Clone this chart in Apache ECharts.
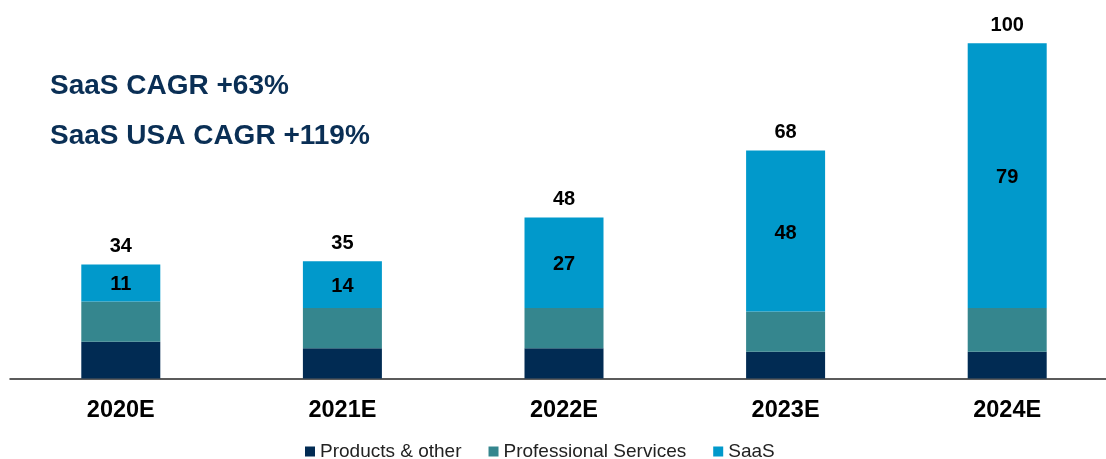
<!DOCTYPE html>
<html>
<head>
<meta charset="utf-8">
<title>Revenue mix 2020E–2024E</title>
<script src="https://cdn.jsdelivr.net/npm/echarts@6/dist/echarts.min.js"></script>
<style>
  html, body { margin: 0; padding: 0; background: #ffffff; }
  #chart { width: 1106px; height: 459px; }
</style>
</head>
<body>
<div id="chart"></div>
<script>
// Revenue by segment, per year
const categories = ['2020E', '2021E', '2022E', '2023E', '2024E'];
const products = [11, 9, 9, 8, 8];
const services = [12, 12, 12, 12, 13];
const saas = [11, 14, 27, 48, 79];
const seriesNames = ['Products & other', 'Professional Services', 'SaaS'];
const headlines = ['SaaS CAGR +63%', 'SaaS USA CAGR +119%'];

const totals = categories.map((_, i) => products[i] + services[i] + saas[i]);

const FONT = '"Liberation Sans", Arial, Helvetica, sans-serif';
const COLORS = { products: '#012B53', services: '#35868E', saas: '#0199CB' };

const chart = echarts.init(document.getElementById('chart'), null, { renderer: 'canvas' });

chart.setOption({
  animation: false,
  textStyle: { fontFamily: FONT },
  // plot area runs a little past the right edge so the five slots are evenly wide
  grid: {
    left: 10, width: 1108, top: 43.3, height: 335.2,
    outerBoundsMode: 'none', containLabel: false
  },
  legend: {
    data: seriesNames,
    left: 300,
    top: 437,
    itemWidth: 10,
    itemHeight: 10,
    itemGap: 27,
    icon: 'rect',
    textStyle: { fontFamily: FONT, fontSize: 19, color: '#222222' }
  },
  xAxis: {
    type: 'category',
    data: categories,
    axisLine: { lineStyle: { color: '#262626', width: 1.5 } },
    axisTick: { show: false },
    axisLabel: { margin: 20, fontFamily: FONT, fontSize: 23.5, fontWeight: 'bold', color: '#000000' }
  },
  yAxis: {
    type: 'value',
    min: 0,
    max: 100,
    show: false,
    splitLine: { show: false }
  },
  graphic: headlines.map((t, i) => ({
    type: 'text',
    left: 50,
    top: 72 + i * 50,
    style: { text: t, font: 'bold 28px ' + FONT, fill: '#0A2F55' }
  })),
  series: [
    {
      name: seriesNames[0], type: 'bar', stack: 'rev', barWidth: 79,
      itemStyle: { color: COLORS.products },
      data: products
    },
    {
      name: seriesNames[1], type: 'bar', stack: 'rev', barWidth: 79,
      itemStyle: { color: COLORS.services },
      data: services
    },
    {
      name: seriesNames[2], type: 'bar', stack: 'rev', barWidth: 79,
      itemStyle: { color: COLORS.saas },
      label: {
        show: true, position: 'inside', offset: [0, 2],
        fontFamily: FONT, fontSize: 20, fontWeight: 'bold', color: '#000000'
      },
      data: saas
    },
    {
      // zero-height cap carrying the total above each stack
      name: 'Total', type: 'bar', stack: 'rev', barWidth: 79,
      itemStyle: { color: 'transparent' },
      label: {
        show: true, position: 'top', distance: 8,
        fontFamily: FONT, fontSize: 20, fontWeight: 'bold', color: '#000000',
        formatter: (p) => String(totals[p.dataIndex])
      },
      tooltip: { show: false },
      data: categories.map(() => 0)
    }
  ]
});
</script>
</body>
</html>
